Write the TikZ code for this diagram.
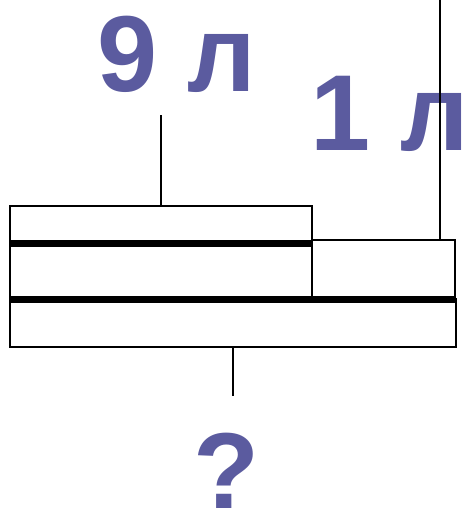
\documentclass[tikz,border=0pt]{standalone}
\usepackage{fontspec}
\setmainfont{Liberation Sans}
\definecolor{lblcol}{RGB}{91,91,159}
\begin{document}
\begin{tikzpicture}[x=1pt,y=-1pt,
  bar/.style={draw=black,line width=2pt,inner sep=0pt,outer sep=0pt},
  divider/.style={line width=7pt},
  tick/.style={line width=2pt},
  lbl/.style={text=lblcol,font=\fontsize{108}{108}\selectfont\bfseries,inner sep=0pt,anchor=base west}]
\useasboundingbox (0,0) rectangle (468,514);
\node[lbl] (n9) at (97,91) {9 л};
\node[lbl] (n1) at (310,150) {1 л};
\node[lbl] (q) at (193,508) {?};
\node[bar,minimum width=302pt,minimum height=37pt] (b9) at (161,224.5) {};
\node[bar,minimum width=302pt,minimum height=56pt] (mL) at (161,271) {};
\node[bar,minimum width=143pt,minimum height=59pt] (mR) at (383.5,269.5) {};
\node[bar,minimum width=446pt,minimum height=48pt] (tot) at (233,323) {};
\draw[divider] (mL.north west) -- (mL.north east);
\draw[divider] (tot.north west) -- (tot.north east);
\coordinate (t9) at (161,115);
\coordinate (t1) at (440,0);
\coordinate (tq) at (233,396);
\draw[tick] (t9) -- (b9.north);
\draw[tick] (t1) -- (t1 |- mR.north);
\draw[tick] (tot.south) -- (tq);
\end{tikzpicture}
\end{document}
